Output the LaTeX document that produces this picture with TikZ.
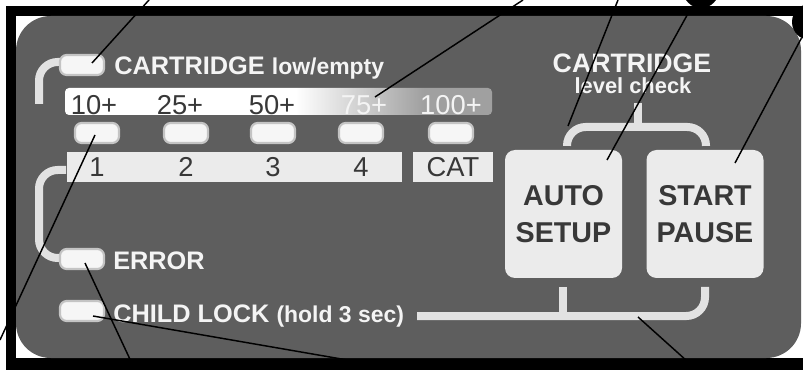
\documentclass[tikz,border=0pt]{standalone}
\usepackage{fontspec}
\setmainfont{Liberation Sans}
\usepackage{tikz}

\definecolor{panelgray}{HTML}{5E5E5E}
\definecolor{ledwhite}{HTML}{F6F6F6}
\definecolor{ledrim}{HTML}{C4C4C4}
\definecolor{trimgray}{HTML}{E2E2E2}
\definecolor{keygray}{HTML}{EBEBEB}
\definecolor{inkdark}{HTML}{383838}
\definecolor{inklight}{HTML}{F4F4F4}
\definecolor{bandgray}{HTML}{A0A0A0}
\pgfdeclarehorizontalshading{bandshade}{100bp}{color(0bp)=(white); color(52bp)=(white); color(67bp)=(bandgray); color(100bp)=(bandgray)}

\tikzset{
  led/.style={fill=ledwhite, draw=ledrim, line width=1.6pt, rounded corners=5pt, minimum width=33pt, minimum height=15pt, inner sep=0pt},
  trim/.style={trimgray, line width=6pt, rounded corners=14pt},
  lbl/.style={text=inklight, font=\bfseries\fontsize{19}{22}\selectfont, inner sep=0pt},
  num/.style={text=inkdark, font=\fontsize{20.5}{22}\selectfont, inner sep=0pt},
  button/.style={fill=keygray, rounded corners=7.5pt, minimum width=87.75pt, minimum height=96pt, align=center, text=inkdark, font=\bfseries\fontsize{21.5}{27.75}\selectfont},
  leader/.style={black, line width=1.1pt},
  blackdot/.style={circle, fill=black, minimum size=27pt, inner sep=0pt}
}

\begin{document}
\begin{tikzpicture}[x=0.75pt, y=-0.75pt]
  \useasboundingbox (0,0) rectangle (803,370);
  % frame and panel
  \fill[black] (6,6) rectangle (812,380);
  \fill[white] (16,16) rectangle (812,358);
  \fill[panelgray, rounded corners=26pt] (16,16) rectangle (801,358);

  % light trim brackets
  \draw[trim] (60,62) -- (39,62) -- (39,104);
  \draw[trim] (66,170) -- (39,170) -- (39,258) -- (60,258);
  \draw[trim] (567,146) -- (567,127) -- (706,127) -- (706,146);
  \draw[trimgray, line width=6pt] (638,103) -- (638,127);
  \draw[trim] (417,316) -- (705,316) -- (705,287);
  \draw[trimgray, line width=6pt] (563,287) -- (563,316);
  \coordinate (lvlcorner) at (568,126);
  \coordinate (lockpt) at (638,317);

  % capacity band and counter labels
  \shade[shading=bandshade, rounded corners=3pt] (65,88) rectangle (492,115);
  \fill[keygray] (67,152) rectangle (402,182);
  \fill[keygray] (413,152) rectangle (493,182);
  \foreach \t/\x/\c [count=\i] in {10+/94/inkdark, 25+/180/inkdark, 50+/272/inkdark, 75+/364/inklight, 100+/451/inklight}
    \node[num, text=\c] (top\i) at (\x,105) {\t};
  \foreach \x [count=\i] in {97,186,273,361,451}
    \node[led] (led\i) at (\x,133) {};
  \foreach \t/\x [count=\i] in {1/97,2/186,3/273,4/361,CAT/453}
    \node[num] (num\i) at (\x,167) {\t};

  % status leds
  \node[led] (ledcart) at (82,65) {};
  \node[led] (lederr) at (82,259) {};
  \node[led] (ledlock) at (82,311) {};
  \node[lbl, anchor=base west] (tcart) at (114,75) {CARTRIDGE \fontsize{17.2}{19}\selectfont low/empty};
  \node[lbl, anchor=base west] (terr) at (113,270) {ERROR};
  \node[lbl, anchor=base west] (tlock) at (113,322) {CHILD LOCK \fontsize{17.2}{19}\selectfont(hold 3 sec)};
  \node[lbl, anchor=base, font=\bfseries\fontsize{20}{22}\selectfont] (tcheck) at (632,73) {CARTRIDGE};
  \node[lbl, anchor=base, font=\bfseries\fontsize{16.4}{18}\selectfont] (tlevel) at (633,94) {level check};

  % buttons
  \node[button] (btnauto) at (563.5,214) {AUTO\\SETUP};
  \node[button] (btnstart) at (705,214) {START\\PAUSE};

  % leaders
  \node[blackdot] (dota) at (701,-10) {};
  \node[blackdot] (dotb) at (810,22) {};
  \coordinate (o1) at (149,0);
  \coordinate (o2) at (523,0);
  \coordinate (o3) at (618,0);
  \coordinate (o6) at (0,340);
  \coordinate (o7) at (135,370);
  \coordinate (o8) at (405,370);
  \coordinate (o9) at (697,370);
  \draw[leader] (o1) -- ([shift={(10,-2)}]ledcart.center);
  \draw[leader] (o2) -- ([shift={(11,-8)}]top4.center);
  \draw[leader] (o3) -- (lvlcorner);
  \draw[leader] (dota) -- ([shift={(43.5,-54)}]btnauto.center);
  \draw[leader] (dotb) -- ([shift={(30,-51)}]btnstart.center);
  \draw[leader] (o6) -- ([shift={(-2,2)}]led1.center);
  \draw[leader] (o7) -- ([shift={(3,4)}]lederr.center);
  \draw[leader] (o8) -- ([shift={(11,5)}]ledlock.center);
  \draw[leader] (o9) -- (lockpt);
\end{tikzpicture}
\end{document}
